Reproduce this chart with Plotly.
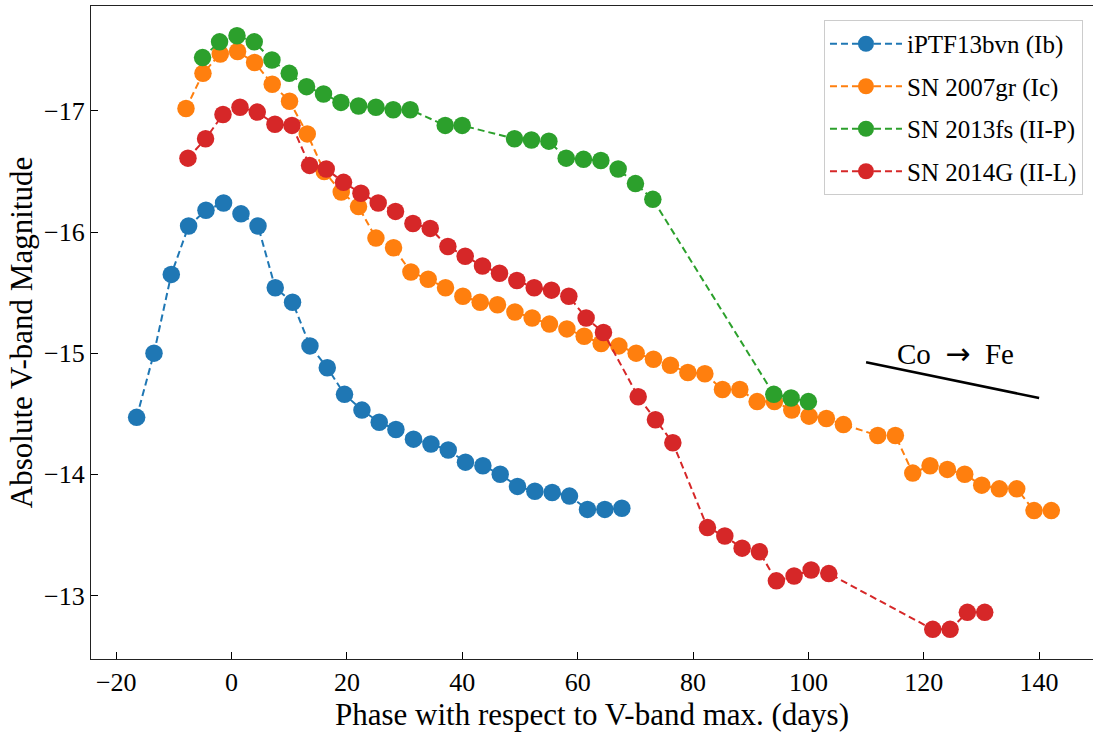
import plotly.graph_objects as go

# iPTF13bvn (Ib)
ib_phase = [-16.46, -13.45, -10.45, -7.45, -4.44, -1.39, 1.63, 4.58, 7.57, 10.57, 13.59, 16.59,
            19.58, 22.6, 25.6, 28.49, 31.54, 34.56, 37.56, 40.55, 43.57, 46.57, 49.57, 52.58,
            55.58, 58.58, 61.7, 64.71, 67.66]
ib_mag = [-14.47, -15.00, -15.65, -16.05, -16.18, -16.24, -16.15, -16.05, -15.54, -15.42, -15.06,
          -14.88, -14.66, -14.53, -14.43, -14.37, -14.29, -14.25, -14.20, -14.10, -14.07, -14.00,
          -13.90, -13.86, -13.85, -13.82, -13.71, -13.71, -13.72]

# SN 2007gr (Ic)
ic_phase = [-7.9, -4.96, -1.96, 1.04, 3.99, 7.05, 10.05, 13.12, 16.07, 19.01, 22.01, 25.03, 28.08,
            31.09, 34.09, 37.09, 40.1, 43.1, 46.1, 49.12, 52.11, 55.11, 58.13, 61.13, 64.07, 67.14,
            70.14, 73.14, 76.08, 79.1, 82.05, 85.1, 88.11, 91.11, 94.11, 97.12, 100.12, 103.12,
            106.07, 112.03, 115.08, 118.09, 121.09, 124.09, 127.1, 130.05, 133.1, 136.12, 139.12,
            142.11]
ic_mag = [-17.02, -17.31, -17.47, -17.49, -17.40, -17.22, -17.08, -16.81, -16.50, -16.33, -16.21,
          -15.95, -15.87, -15.67, -15.61, -15.54, -15.47, -15.42, -15.40, -15.34, -15.29, -15.24,
          -15.20, -15.14, -15.08, -15.06, -15.00, -14.95, -14.90, -14.84, -14.83, -14.70, -14.70,
          -14.60, -14.60, -14.53, -14.48, -14.46, -14.41, -14.32, -14.32, -14.01, -14.07, -14.04,
          -14.00, -13.91, -13.88, -13.88, -13.70, -13.70]

# SN 2013fs (II-P)
iip_phase = [-5.03, -2.08, 0.94, 3.93, 7.0, 10.0, 13.0, 15.94, 18.96, 22.01, 25.03, 28.02, 30.97,
             37.04, 39.98, 49.05, 51.99, 55.01, 58.01, 61.01, 64.02, 67.02, 70.02, 73.03, 94.0,
             97.0, 100.0]
iip_mag = [-17.44, -17.57, -17.62, -17.57, -17.42, -17.31, -17.20, -17.14, -17.07, -17.04, -17.03,
           -17.01, -17.01, -16.88, -16.88, -16.77, -16.76, -16.75, -16.61, -16.60, -16.59, -16.52,
           -16.40, -16.27, -14.66, -14.63, -14.60]

# SN 2014G (II-L)
iil_phase = [-7.56, -4.51, -1.49, 1.46, 4.45, 7.52, 10.47, 13.52, 16.41, 19.41, 22.43, 25.42, 28.42,
             31.44, 34.44, 37.5, 40.5, 43.5, 46.45, 49.46, 52.46, 55.46, 58.47, 61.47, 64.47, 70.49,
             73.48, 76.5, 82.5, 85.51, 88.51, 91.51, 94.45, 97.52, 100.47, 103.54, 121.56, 124.56,
             127.56, 130.57]
iil_mag = [-16.61, -16.77, -16.97, -17.03, -16.99, -16.89, -16.88, -16.55, -16.52, -16.41, -16.32,
           -16.24, -16.17, -16.07, -16.03, -15.88, -15.80, -15.72, -15.66, -15.60, -15.54, -15.52,
           -15.47, -15.29, -15.17, -14.64, -14.45, -14.26, -13.56, -13.49, -13.39, -13.36, -13.12,
           -13.16, -13.21, -13.18, -12.72, -12.72, -12.86, -12.86]

# Co -> Fe decay slope guide
cofe_phase = [110, 140]
cofe_mag = [-14.925, -14.63]

series = [
    ("iPTF13bvn (Ib)", ib_phase, ib_mag, "#1f77b4"),
    ("SN 2007gr (Ic)", ic_phase, ic_mag, "#ff7f0e"),
    ("SN 2013fs (II-P)", iip_phase, iip_mag, "#2ca02c"),
    ("SN 2014G (II-L)", iil_phase, iil_mag, "#d62728"),
]

FONT = "Liberation Serif"

fig = go.Figure()
for i, (name, x, y, c) in enumerate(series):
    fig.add_trace(go.Scatter(
        x=x, y=y, name=name, mode="lines+markers", legendgroup=str(i),
        line=dict(color=c, width=2, dash="7px,4px"),
        marker=dict(color=c, size=17.5),
    ))

fig.add_trace(go.Scatter(x=cofe_phase, y=cofe_mag, mode="lines", showlegend=False,
                         line=dict(color="black", width=2.5), hoverinfo="skip"))

fig.add_annotation(x=115, y=-15.0,
                   text="Co&nbsp;&nbsp;<span style='font-family:DejaVu Sans;font-size:30px'>→</span>&nbsp;&nbsp;Fe",
                   showarrow=False, xanchor="left", yanchor="middle",
                   font=dict(family=FONT, size=29, color="black"))

fig.update_layout(
    width=1093, height=732,
    margin=dict(l=91, r=0, t=6, b=73),
    plot_bgcolor="white", paper_bgcolor="white",
    font=dict(family=FONT, size=26, color="black"),
    legend=dict(x=0.990, y=0.9786, xanchor="right", yanchor="top",
                bgcolor="rgba(255,255,255,0.8)", bordercolor="#cccccc", borderwidth=1,
                font=dict(family=FONT, size=25), tracegroupgap=7, itemwidth=72),
    showlegend=True,
)
fig.update_xaxes(
    range=[-24.37, 149.34], tickmode="array", tickvals=[-20, 0, 20, 40, 60, 80, 100, 120, 140],
    ticks="inside", ticklen=7, tickwidth=1.3, tickcolor="black",
    showline=True, linecolor="#222", linewidth=1.3, mirror=True,
    showgrid=False, zeroline=False,
    title=dict(text="Phase with respect to V-band max. (days)", font=dict(size=31), standoff=4),
    tickfont=dict(size=26), automargin=False,
)
fig.update_yaxes(
    range=[-12.475, -17.866], tickmode="array", tickvals=[-17, -16, -15, -14, -13],
    ticks="inside", ticklen=7, tickwidth=1.3, tickcolor="black",
    showline=True, linecolor="#222", linewidth=1.3, mirror=False,
    showgrid=False, zeroline=False,
    title=dict(text="Absolute V-band Magnitude", font=dict(size=31), standoff=2),
    tickfont=dict(size=26), automargin=False,
)

fig.write_html("out.html")
